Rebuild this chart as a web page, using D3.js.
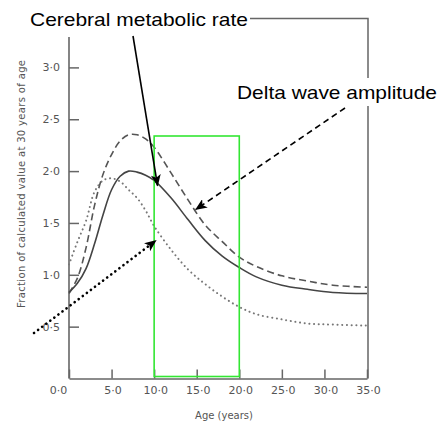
<!DOCTYPE html>
<html lang="en">
<head>
    <meta charset="UTF-8">
    <title>Cerebral metabolic rate and delta wave amplitude</title>
    <style>
        body { margin: 0; background: #fff; }
        svg { display: block; }
    </style>
</head>
<body>
    <svg id="chart" width="442" height="423"></svg>

    <script src="https://d3js.org/d3.v7.min.js"></script>
    <script>
        // Values (fraction of value at 30 years)
        const ages = [0, 1, 2, 3, 4, 5, 6, 7, 8, 9, 10, 12, 14, 16, 18, 20, 22, 25, 28, 31, 35];
        const cerebral = [0.83, 0.92, 1.06, 1.30, 1.58, 1.82, 1.95, 2.00, 1.99, 1.96, 1.91, 1.74, 1.53, 1.33, 1.18, 1.07, 0.98, 0.90, 0.86, 0.83, 0.82];
        const delta = [0.82, 0.97, 1.26, 1.67, 1.97, 2.16, 2.29, 2.35, 2.35, 2.31, 2.23, 1.98, 1.72, 1.48, 1.32, 1.17, 1.08, 0.99, 0.94, 0.90, 0.88];
        const dotted = [1.10, 1.32, 1.52, 1.80, 1.91, 1.93, 1.90, 1.82, 1.74, 1.62, 1.47, 1.24, 1.05, 0.91, 0.79, 0.69, 0.62, 0.57, 0.53, 0.52, 0.51];

        const xTicks = [0, 5, 10, 15, 20, 25, 30, 35];
        const yTicks = [0.5, 1.0, 1.5, 2.0, 2.5, 3.0];
        const highlight = [10, 20]; // green box, age range

        const svg = d3.select("#chart");
        const grey = "#666";
        const font = "DejaVu Sans, sans-serif";

        const x = d3.scaleLinear().domain([0, 35]).range([69, 367]);
        const y = d3.scaleLinear().domain([0, 3]).range([378.5, 67.4]);

        const fmt = v => d3.format(".1f")(v).replace(".", "\u00b7");

        // frame: left axis line, top rule from the label, right side
        svg.append("line")
            .attr("x1", x(0)).attr("x2", x(0))
            .attr("y1", 37).attr("y2", y(0))
            .attr("stroke", grey).attr("stroke-width", 1.6);
        svg.append("path")
            .attr("d", `M250,18.5 H${x(35) + 1} V${y(0)}`)
            .attr("fill", "none")
            .attr("stroke", grey).attr("stroke-width", 1.5);

        // y axis, ticks pointing inwards
        const yAxis = svg.append("g")
            .attr("transform", `translate(${x(0)},0)`)
            .call(d3.axisLeft(y).tickValues(yTicks).tickFormat(fmt)
                .tickSizeInner(-10).tickSizeOuter(0).tickPadding(9));
        yAxis.select(".domain").remove();
        yAxis.selectAll("line").attr("stroke", grey).attr("stroke-width", 1.5);
        yAxis.selectAll("text").attr("fill", "#555")
            .attr("font-family", font).attr("font-size", 11);

        // x axis
        const xAxis = svg.append("g")
            .attr("transform", `translate(0,${y(0)})`)
            .call(d3.axisBottom(x).tickValues(xTicks).tickFormat(fmt)
                .tickSizeInner(-9).tickSizeOuter(0).tickPadding(8));
        xAxis.select(".domain")
            .attr("stroke", grey).attr("stroke-width", 1.6);
        xAxis.selectAll("line").attr("stroke", grey).attr("stroke-width", 1.5);
        xAxis.selectAll("text").attr("fill", "#555")
            .attr("font-family", font).attr("font-size", 11)
            .attr("dx", d => d === 0 ? -11 : 1);

        // axis titles
        svg.append("text")
            .attr("x", 224).attr("y", 419)
            .attr("text-anchor", "middle")
            .attr("fill", "#555")
            .attr("font-family", font).attr("font-size", 10)
            .text("Age (years)");

        svg.append("text")
            .attr("transform", "translate(25,184) rotate(-90)")
            .attr("text-anchor", "middle")
            .attr("fill", "#555")
            .attr("font-family", font).attr("font-size", 10)
            .attr("textLength", 248).attr("lengthAdjust", "spacing")
            .text("Fraction of calculated value at 30 years of age");

        // curves
        const line = d3.line()
            .x(d => x(d[0]))
            .y(d => y(d[1]))
            .curve(d3.curveCatmullRom);

        const series = [
            { values: delta, color: "#555", width: 1.6, dash: "7,4", cap: "butt" },
            { values: cerebral, color: "#444", width: 1.6, dash: null, cap: "butt" },
            { values: dotted, color: "#777", width: 2, dash: "0.1,4.6", cap: "round" }
        ];

        series.forEach(s => {
            svg.append("path")
                .datum(ages.map((a, i) => [a, s.values[i]]))
                .attr("d", line)
                .attr("fill", "none")
                .attr("stroke", s.color)
                .attr("stroke-width", s.width)
                .attr("stroke-dasharray", s.dash)
                .attr("stroke-linecap", s.cap);
        });

        // green box over ages 10-20
        svg.append("rect")
            .attr("x", x(highlight[0]))
            .attr("y", 136)
            .attr("width", x(highlight[1]) - x(highlight[0]))
            .attr("height", 376.5 - 136)
            .attr("fill", "none")
            .attr("stroke", "#33e633")
            .attr("stroke-width", 1.6);

        // arrows
        const defs = svg.append("defs");
        defs.append("marker")
            .attr("id", "head")
            .attr("viewBox", "0 0 12 10")
            .attr("refX", 11).attr("refY", 5)
            .attr("markerWidth", 12).attr("markerHeight", 10)
            .attr("markerUnits", "userSpaceOnUse")
            .attr("orient", "auto")
            .append("path")
            .attr("d", "M0,0 L12,5 L0,10 L3,5 Z")
            .attr("fill", "#000");

        const arrows = [
            { from: [133, 36], to: [x(10.4), y(1.86)], dash: null, width: 1.6, cap: "butt" },
            { from: [345, 108], to: [x(14.9), y(1.63)], dash: "6,4", width: 1.6, cap: "butt" },
            { from: [34, 333], to: [x(10.2), y(1.33)], dash: "0.1,5", width: 2.6, cap: "round" }
        ];

        arrows.forEach(a => {
            svg.append("line")
                .attr("x1", a.from[0]).attr("y1", a.from[1])
                .attr("x2", a.to[0]).attr("y2", a.to[1])
                .attr("stroke", "#000")
                .attr("stroke-width", a.width)
                .attr("stroke-dasharray", a.dash)
                .attr("stroke-linecap", a.cap)
                .attr("marker-end", "url(#head)");
        });

        // labels
        svg.append("text")
            .attr("x", 30).attr("y", 26)
            .attr("fill", "#000")
            .attr("font-family", "Liberation Sans, Arial, sans-serif")
            .attr("font-size", 19)
            .attr("textLength", 218).attr("lengthAdjust", "spacingAndGlyphs")
            .text("Cerebral metabolic rate");

        const dl = svg.append("g");
        dl.append("rect")
            .attr("x", 236).attr("y", 78)
            .attr("width", 206).attr("height", 28)
            .attr("fill", "#fff");
        dl.append("text")
            .attr("x", 237).attr("y", 99)
            .attr("fill", "#000")
            .attr("font-family", "Liberation Sans, Arial, sans-serif")
            .attr("font-size", 19)
            .attr("textLength", 200).attr("lengthAdjust", "spacingAndGlyphs")
            .text("Delta wave amplitude");
    </script>
</body>
</html>
